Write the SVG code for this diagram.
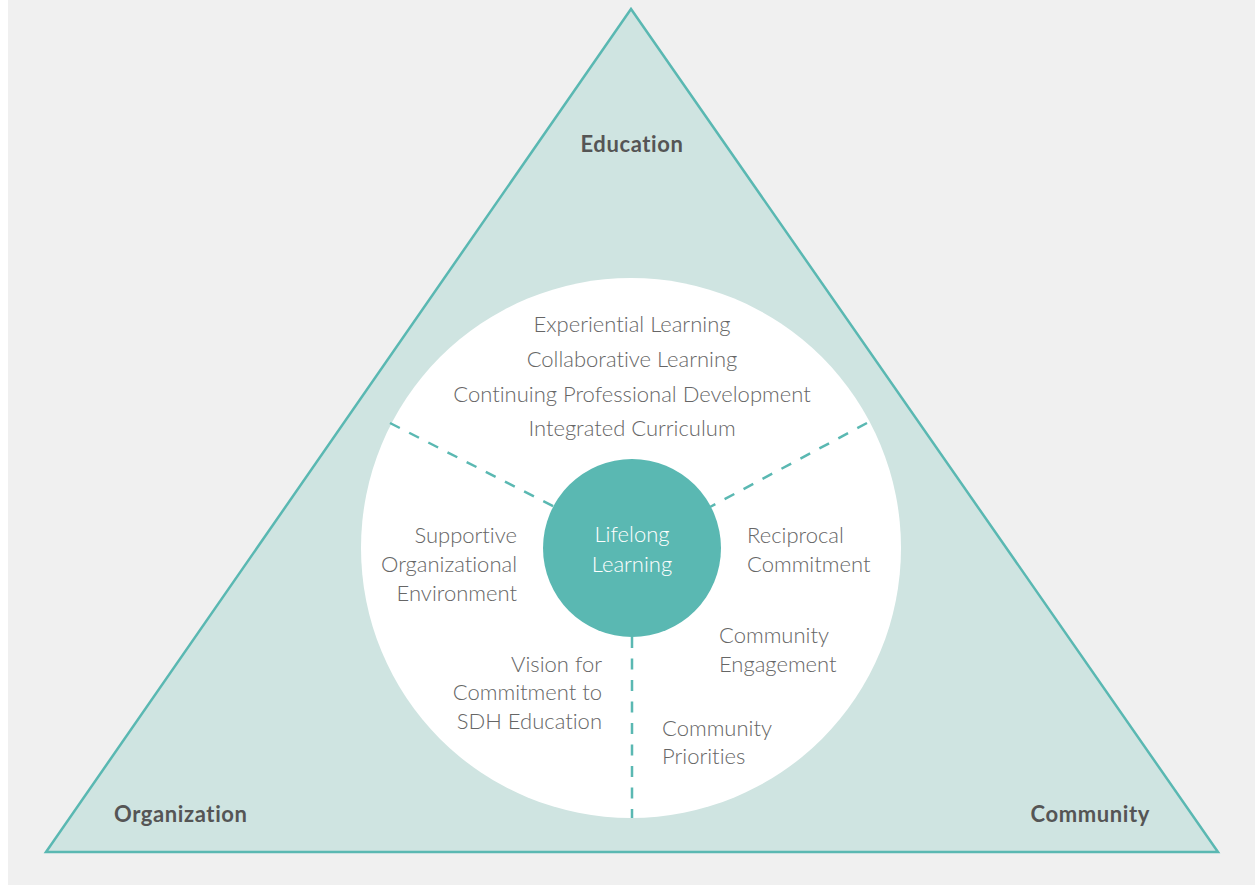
<svg xmlns="http://www.w3.org/2000/svg" width="1260" height="885" viewBox="0 0 1260 885">
<style>
.lbl{font-family:Lato,"Liberation Sans",sans-serif;font-size:22px;fill:#666666;font-weight:300;font-variant-ligatures:none}
.hd{font-family:Lato,"Liberation Sans",sans-serif;font-size:22px;fill:#555;font-weight:700;letter-spacing:0.6px;font-variant-ligatures:none}
.dash{stroke:#5ab8b2;stroke-width:2.5;stroke-dasharray:11 10.5;fill:none}
</style>
<rect x="0" y="0" width="1260" height="885" fill="#ffffff"/>
<rect x="8" y="0" width="1247" height="885" fill="#f0f0f0"/>
<g id="triangle">
<polygon points="631,9 46,852 1218,852" fill="#cfe4e1" stroke="#5ab8b2" stroke-width="2.5" stroke-linejoin="miter"/>
<text class="hd" x="632" y="152" text-anchor="middle">Education</text>
<text class="hd" x="114" y="822">Organization</text>
<text class="hd" x="1150" y="822" text-anchor="end">Community</text>
</g>
<g id="outer-circle">
<circle cx="631" cy="548" r="270" fill="#ffffff"/>
</g>
<g id="connectors">
<line class="dash" x1="390" y1="423" x2="555" y2="507"/>
<line class="dash" x1="867" y1="423" x2="710" y2="507"/>
<line class="dash" x1="632" y1="637" x2="632" y2="818"/>
</g>
<g id="center">
<circle cx="632" cy="548" r="89" fill="#5ab8b2"/>
<text class="lbl" x="632" y="542" text-anchor="middle" style="fill:#ffffff">Lifelong</text>
<text class="lbl" x="632" y="572" text-anchor="middle" style="fill:#ffffff">Learning</text>
</g>
<g id="education-items">
<text class="lbl" x="632" y="332" text-anchor="middle">Experiential Learning</text>
<text class="lbl" x="632" y="367" text-anchor="middle">Collaborative Learning</text>
<text class="lbl" x="632" y="402" text-anchor="middle">Continuing Professional Development</text>
<text class="lbl" x="632" y="436" text-anchor="middle">Integrated Curriculum</text>
</g>
<g id="organization-env">
<text class="lbl" x="517" y="543" text-anchor="end">Supportive</text>
<text class="lbl" x="517" y="572" text-anchor="end">Organizational</text>
<text class="lbl" x="517" y="601" text-anchor="end">Environment</text>
</g>
<g id="vision">
<text class="lbl" x="602" y="672" text-anchor="end">Vision for</text>
<text class="lbl" x="602" y="700" text-anchor="end">Commitment to</text>
<text class="lbl" x="602" y="729" text-anchor="end">SDH Education</text>
</g>
<g id="reciprocal">
<text class="lbl" x="747" y="543">Reciprocal</text>
<text class="lbl" x="747" y="572">Commitment</text>
</g>
<g id="engagement">
<text class="lbl" x="719" y="643">Community</text>
<text class="lbl" x="719" y="672">Engagement</text>
</g>
<g id="priorities">
<text class="lbl" x="662" y="736">Community</text>
<text class="lbl" x="662" y="764">Priorities</text>
</g>
</svg>
